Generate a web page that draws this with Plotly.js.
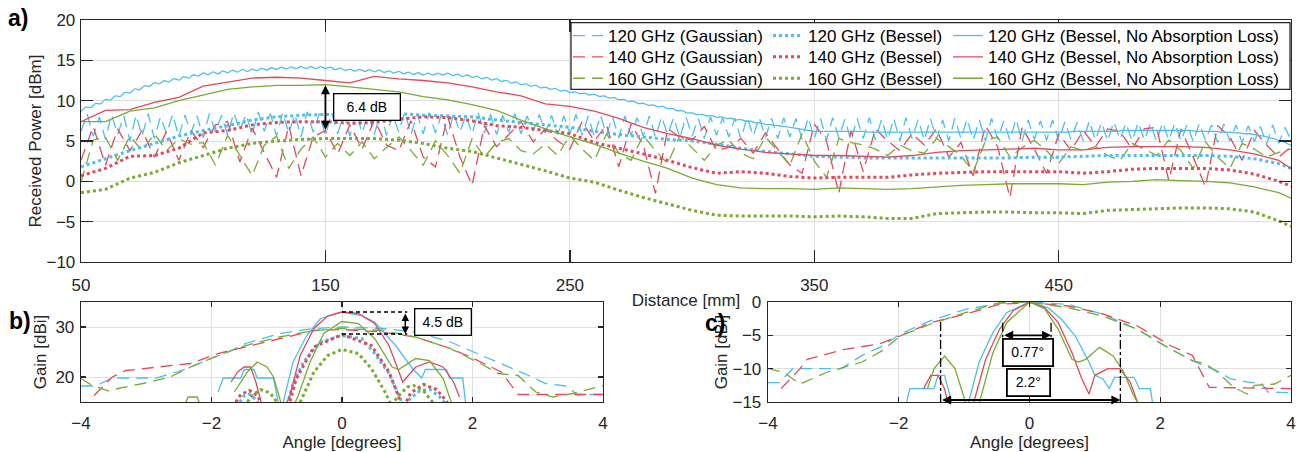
<!DOCTYPE html>
<html><head><meta charset="utf-8">
<script src="https://cdn.plot.ly/plotly-3.0.1.min.js"></script>
<style>html,body{margin:0;padding:0;background:#fff}#chart{width:1304px;height:452px}</style>
</head><body><div id="chart"></div>
<script>
// ================= DATA =================
// (a) Received power vs distance [mm]
const distS = [50,60,70,80,90,100,110,120,130,140,150,160,170,180,190,200,210,220,230,240,250,260,270,280,290,300,310,320,330,340,350,360,370,380,390,400,410,420,430,440,450,460,470,480,490,500,510,520,530,540,545];
// 120 GHz (no absorption) sampled every 2 mm from 50 mm (shows its small ripple)
const pow120NoAbs = [8.65,
 9.19,9.13,9.67,9.61,10.15, 10.07,10.59,10.51,11.03,10.95, 11.45,11.35,11.85,11.75,12.25, 12.07,12.49,12.31,12.73,12.55, 12.97,12.79,13.21,13.03,13.45,
 13.21,13.57,13.33,13.69,13.45, 13.79,13.53,13.87,13.61,13.92, 13.72,14.0,13.8,14.08,13.88, 14.14,13.92,14.18,13.96,14.22, 13.98,14.22,13.98,14.22,13.98,
 14.16,13.86,14.04,13.74,13.92, 13.66,13.88,13.62,13.84,13.58, 13.78,13.5,13.7,13.42,13.62, 13.34,13.54,13.26,13.46,13.18, 13.42,13.18,13.42,13.18,13.42,
 13.12,13.3,13.0,13.18,12.88, 13.04,12.72,12.88,12.56,12.72, 12.38,12.52,12.18,12.32,11.98, 12.12,11.78,11.92,11.58,11.68, 11.42,11.48,11.22,11.28,11.02,
 11.1,10.86,10.94,10.7,10.78, 10.52,10.58,10.32,10.38,10.12, 10.16,9.88,9.92,9.64,9.68, 9.42,9.48,9.22,9.28,9.02, 9.04,8.74,8.76,8.46,8.48,
 8.26,8.3,8.1,8.14,7.94, 7.98,7.78,7.82,7.62,7.66, 7.44,7.46,7.24,7.26,7.04, 7.02,6.94,6.86,6.78,6.7, 6.6,6.5,6.4,6.3,6.2,
 6.2,6.2,6.2,6.2,6.2, 6.2,6.2,6.2,6.2,6.2, 6.1,6.1,6.1,6.1,6.1, 6.1,6.1,6.1,6.1,6.1, 6.1,6.1,6.1,6.1,6.1,
 6.1,6.1,6.1,6.1,6.1, 6.1,6.1,6.1,6.1,6.1, 6.1,6.1,6.1,6.1,6.1, 6.1,6.1,6.1,6.1,6.1, 6.1,6.1,6.1,6.1,6.1,
 6.1,6.1,6.2,6.2,6.2, 6.2,6.2,6.2,6.2,6.2, 6.2,6.2,6.3,6.3,6.3, 6.3,6.3,6.3,6.3,6.3, 6.3,6.3,6.3,6.3,6.3,
 6.3,6.3,6.2,6.2,6.2, 6.2,6.2,6.1,6.1,6.1, 6.0,6.0,5.9,5.9,5.8, 5.7,5.6,5.4,5.3,5.1, 4.9,4.6,4.3];
const pow140NoAbs = [7.4,8.8,8.9,9.8,10.4,11.8,12.3,12.8,12.9,12.8, 12.5,12.2,13.0,12.7,12.5,12.2,11.7,11.1,10.6,9.6, 9.3,8.7,7.8,6.7,5.9,5.3,4.5,4.0,3.6,3.4, 3.2,3.2,3.1,3.0,3.2,3.6,3.8,3.9,4.0,4.1, 3.9,3.9,4.2,4.3,4.3,4.3,4.2,3.9,3.4,2.6, 1.6];
const pow160NoAbs = [7.4,7.4,8.7,9.1,10.0,10.7,11.4,11.7,11.9,11.9, 12.0,11.7,11.4,11.1,10.5,10.1,9.5,8.8,7.6,6.5, 5.5,4.6,3.5,2.5,1.6,0.4,-0.4,-0.8,-0.9,-0.9, -1.0,-0.8,-0.9,-1.0,-0.9,-0.7,-0.5,-0.4,-0.3,-0.3, -0.3,-0.4,-0.1,0.0,0.2,0.1,0.0,-0.2,-0.7,-1.4, -2.1];
const pow120Bessel = [1.8,2.8,3.8,4.7,5.6,6.3,6.9,7.6,8.0,8.2, 8.3,8.2,8.2,8.4,8.2,8.1,8.0,7.6,7.3,7.0, 6.7,6.2,5.8,5.5,5.2,5.0,4.6,4.1,3.7,3.4, 3.1,3.0,2.9,2.9,2.9,2.9,2.9,2.9,2.9,3.0, 3.0,3.1,3.2,3.2,3.2,3.2,3.2,3.1,2.8,2.2, 1.6];
const pow140Bessel = [0.7,1.6,3.1,3.2,4.1,6.0,6.3,7.0,7.3,7.4, 7.4,7.2,7.3,7.7,8.0,7.9,7.5,6.9,6.7,6.3, 5.9,4.8,4.1,3.4,2.6,1.7,1.0,1.2,1.0,0.6, 0.4,0.5,0.5,0.5,0.8,1.0,1.1,1.2,1.2,1.2, 1.2,1.0,1.2,1.5,1.6,1.6,1.6,1.4,0.9,0.0, -0.6];
const pow160Bessel = [-1.4,-1.0,0.4,1.1,2.3,3.2,4.1,4.7,5.0,5.2, 5.3,5.3,5.3,5.1,4.7,4.1,3.7,2.9,2.1,1.3, 0.4,-0.1,-1.1,-2.0,-2.8,-3.6,-4.2,-4.3,-4.3,-4.3, -4.4,-4.3,-4.4,-4.6,-4.6,-4.0,-3.9,-3.8,-3.8,-3.9, -3.9,-4.0,-3.6,-3.5,-3.4,-3.3,-3.3,-3.4,-3.8,-4.9, -5.6];
// Gaussian series: 120 GHz sampled every 2.5 mm from 50 mm, 140/160 GHz every 5 mm from 50 mm
const pow120Gauss = [6.2,8.4,5.6,8.0,5.2,8.3,5.8,8.1,5.0,8.2,5.6,8.4,5.3,8.0,5.9,8.3,5.5,8.2,6.0,8.1,
 5.4,8.4,6.1,8.2,5.7,8.5,6.3,8.3,5.8,8.6,6.2,8.4,5.6,8.5,6.0,8.3,5.5,8.6,6.1,8.4,
 5.7,8.5,5.9,8.3,5.6,8.6,6.0,8.4,5.8,8.5,5.7,8.3,6.1,8.6,5.8,8.4,5.9,8.5,6.0,8.3,
 5.7,8.4,6.1,8.2,5.9,8.5,6.0,8.3,5.8,8.2,6.1,8.4,5.9,8.1,6.2,8.3,6.0,8.2,5.8,8.1,
 5.9,8.3,5.7,8.1,5.5,8.2,5.8,8.0,5.4,8.1,5.7,7.9,5.6,8.1,5.5,8.0,5.8,7.9,5.4,8.0,
 5.6,7.8,5.3,8.0,5.7,7.9,5.5,7.8,5.2,8.0,5.6,7.9,5.4,7.8,5.3,7.9,5.5,7.8,5.2,7.9,
 5.3,7.8,5.1,7.9,5.4,7.7,5.0,7.8,5.3,7.9,5.1,7.7,5.2,7.8,5.0,7.9,5.3,7.7,5.1,7.8,
 5.2,7.6,5.0,7.8,5.3,7.7,5.1,7.6,5.0,7.8,5.2,7.5,5.1,7.7,5.0,7.6,5.2,7.5,5.1,7.6,
 5.0,7.4,5.2,7.3,5.0,7.5,5.1,7.3,5.0,7.4,5.2,7.2,5.0,7.3,5.1,7.2,4.9,7.3,5.1,7.2,
 5.0,7.1,4.9,7.2,5.1,7.0,4.8,7.1,5.0,7.0,4.8,6.9,4.9,6.8,4.6,7.0,4.7,6.7,5.1];
const pow140Gauss = [2.6,6.8,2.0,6.5,3.8,6.3,3.0,6.2,2.6,6.3, 4.2,7.0,7.4,2.4,6.6,3.5,0.5,6.9,0.7,5.5,
 6.3,3.4,7.0,4.0,7.6,4.5,3.8,7.5,3.0,1.8, 8.0,3.0,-0.5,6.9,4.3,5.8,7.4,4.9,6.5,5.0,
 4.0,7.4,5.0,7.0,1.8,7.1,4.5,-1.5,6.5,5.5, 5.1,6.8,3.8,4.2,5.3,3.5,6.0,4.0,2.0,1.0,
 7.1,5.0,-1.5,6.3,1.2,6.5,5.0,3.8,5.9,4.5, 6.5,3.0,4.8,0.7,6.9,4.3,-2.0,6.7,4.0,1.0,
 5.9,3.8,6.3,4.3,6.5,6.2,4.0,6.5,6.7,0.1, 6.5,3.0,-0.7,6.9,5.5,2.6,6.3,4.5,3.0,4.3];
const pow160Gauss = [-0.1,5.1,5.5,2.6,5.6,3.8,5.9,3.8,5.3,4.6, 4.8,2.0,5.7,3.2,0.7,4.5,5.6,1.6,4.0,5.5,
 3.0,4.7,3.2,4.9,2.8,4.2,5.5,3.8,2.0,5.0, 3.2,1.0,5.3,3.0,4.8,5.3,3.8,3.4,4.6,3.2,
 5.7,4.0,2.6,5.9,3.5,2.6,5.7,3.8,2.2,5.7, 4.2,2.6,4.5,5.1,3.5,2.8,5.5,3.8,2.0,5.9,
 2.5,0.5,5.3,4.8,4.5,4.0,3.2,4.5,3.8,3.5, 5.3,4.3,3.2,1.2,5.0,5.5,3.0,4.2,5.1,3.8,
 2.2,4.3,3.8,4.3,3.2,2.6,4.7,4.0,3.2,5.1, 3.8,1.6,4.9,3.0,1.6,4.7,4.0,3.0,3.6,4.0];

// (b) Gain [dBi] vs angle [deg]
const bAng120G = [-4,-3.78,-3.52,-2.85,-2.53,-2.32,-2.0,-1.74,-1.48,-0.96,-0.43,0,0.61,1.13,1.66,1.97,2.44,2.86,3.12,3.44,3.6,4];
const bGain120G = [18.2,18.2,19.8,19.8,21.0,22.0,23.7,25.0,26.7,28.7,29.7,30.0,29.7,29.0,27.0,25.3,22.7,20.3,18.7,18.2,16.5,16.5];
const bAng140G = [-3.8,-3.52,-3.31,-2.79,-2.32,-1.9,-1.48,-0.96,-0.43,0,0.61,1.13,1.66,1.97,2.44,2.7,4];
const bGain140G = [16.3,20.0,21.3,22.0,22.7,24.7,26.0,27.7,29.3,29.5,29.0,28.0,25.7,24.0,21.0,16.5,16.5];
const bAng160G = [-4,-3.83,-3.57,-3.4,-3.05,-2.63,-2.32,-1.9,-1.48,-0.96,-0.43,0,0.61,1.13,1.66,2.18,2.39,2.7,2.97,3.23,3.54,4];
const bGain160G = [19.7,18.3,17.2,17.8,18.7,20.0,22.0,24.3,26.3,28.0,29.3,29.7,29.3,28.0,25.7,22.3,20.7,20.3,17.0,16.0,16.7,18.3];
const bAng120B = [-1.62,-1.5,-1.42,-1.32,-1.25,-1.0,-0.85,-0.75,-0.59,-0.33,0,0.3,0.5,0.72,0.87,0.95,1.05,1.2,1.35,1.5,1.62];
const bGain120B = [14,16.3,16.6,15.5,14,12,14,18.7,23,27,28.3,27.7,24.7,20.7,16.3,14,15.8,17.3,17.5,16,14];
const bAng140B = [-1.68,-1.55,-1.42,-1.3,-1.2,-1.0,-0.8,-0.7,-0.43,0,0.45,0.72,0.9,0.95,1.05,1.25,1.45,1.6,1.65];
const bGain140B = [14,16.5,17.3,16.3,14,12,15,19.7,26,28.5,26.3,21,15,14,16.8,18.5,17.5,15.2,14];
const bAng160B = [-1.5,-1.4,-1.25,-1.1,-0.97,-0.85,-0.68,-0.64,-0.43,-0.22,0,0.25,0.45,0.66,0.76,0.85,1.0,1.1,1.25,1.4,1.45];
const bGain160B = [14,16,17.5,16.8,14.5,12,14,15,21,24.3,25.5,24.7,21.7,17,14.2,16,18,18.3,17.2,15,14];
const bAng120N = [-1.9,-1.82,-1.55,-1.5,-1.35,-1.3,-1.05,-1.0,-0.95,-0.9,-0.75,-0.54,-0.33,0,0.3,0.5,0.82,1.08,1.22,1.28,1.6,1.65,1.85,1.9];
const bGain120N = [17,19.8,19.8,21.5,21.5,19.8,19.8,16.5,13,15,23,28.3,31.7,33,32.3,31,26.3,21.7,19.8,21.5,21.5,19.8,19.8,14];
const bAng140N = [-1.7,-1.6,-1.5,-1.4,-1.32,-1.22,-1.0,-0.8,-0.64,-0.43,-0.22,0,0.25,0.5,0.72,0.87,0.93,1.13,1.34,1.55,1.71,1.8];
const bGain140N = [19,21,22,22,19,14,10,16.3,24.3,29.7,32.2,33,32.7,30.7,26.3,21,19,22,23,22,19,16];
const bAng160N = [-2.42,-2.36,-2.22,-2.16,null,-1.65,-1.45,-1.3,-1.15,-1.05,-0.95,-0.85,-0.67,-0.49,-0.28,0,0.25,0.5,0.77,0.87,1.13,1.34,1.55,1.66,1.7];
const bGain160N = [14,16,16,14,null,17,21,23,22,20,15,11,16.3,23,28.7,31.1,30.7,27.7,22,21.5,23.7,23.3,19.7,15.7,14];

// (c) Normalised gain [dBi] vs angle [deg]
const cAng120G = [-4,-3.83,-3.62,-2.88,-2.56,-2.25,-1.98,-1.51,-0.98,-0.46,0,0.59,1.12,1.65,2.07,2.49,2.86,3.07,3.38,3.54,3.65,4];
const cGain120G = [-12.1,-12.1,-10,-10,-8,-6.6,-4.8,-2.8,-1.1,-0.2,0,-0.35,-1.8,-4.1,-6.6,-8.8,-10.3,-11.5,-12.1,-12.1,-13.5,-13.6];
const cAng140G = [-3.8,-3.51,-3.4,-2.83,-2.3,-1.98,-1.51,-0.98,-0.46,0,0.59,1.12,1.65,1.91,2.17,2.49,2.75,4];
const cGain140G = [-13,-10,-8.6,-7.1,-6.3,-5.1,-3.1,-1.8,-0.35,-0.1,-0.6,-1.8,-3.6,-5.1,-6.6,-8,-12.8,-13];
const cAng160G = [-4,-3.77,-3.51,-3.09,-2.56,-2.25,-1.98,-1.51,-0.98,-0.46,0,0.59,1.12,1.65,2.17,2.49,2.7,2.91,3.12,3.33,3.44,3.75,4];
const cGain160G = [-10,-10.5,-12.3,-10.5,-9,-7.3,-5.1,-3.3,-1.6,-0.1,0,-0.85,-2.1,-4.1,-7.1,-8.8,-9.3,-10.8,-12.8,-13.8,-12.5,-12.3,-11];
const cAng120N = [-1.88,-1.83,-1.72,-1.46,-1.4,-1.3,-1.19,-1.05,-0.93,-0.77,-0.56,-0.35,0,0.28,0.49,0.7,0.91,1.0,1.12,1.22,1.3,1.6,1.68,1.85,1.88];
const cGain120N = [-15,-13,-13,-13,-11,-11,-15,-18,-15,-9,-4.6,-1.6,0,-0.85,-2.6,-5.1,-9,-11,-11.5,-13,-11.3,-11.3,-13,-13,-15];
const cAng140N = [-1.62,-1.51,-1.4,-1.3,-1.25,-1.0,-0.85,-0.67,-0.46,-0.25,0,0.23,0.44,0.65,0.8,0.91,1.0,1.2,1.38,1.54,1.65];
const cGain140N = [-13,-11,-11,-13,-15,-18,-15,-8.6,-4.1,-1.3,0,-0.85,-3.1,-7.6,-11.5,-13.8,-11,-10,-10,-12,-15];
const cAng160N = [-1.56,-1.46,-1.3,-1.14,-0.98,-0.85,-0.75,-0.56,-0.35,0,0.23,0.44,0.65,0.75,0.86,1.07,1.28,1.44,1.59,1.65];
const cGain160N = [-13,-10,-8.1,-10,-15,-18,-14.5,-7.6,-3.1,0,-1,-4.1,-8.6,-9,-8.6,-6.8,-8.1,-10.5,-14,-15];

// tick labels
const distTicks = [50,150,250,350,450];
const powerTicks = [-10,-5,0,5,10,15,20];
const angleTicks = [-4,-2,0,2,4];
const gainTicksB = [20,30];
const gainTicksC = [-15,-10,-5,0];

// legend names
const freqs = ['120 GHz','140 GHz','160 GHz'];
const kinds = ['(Gaussian)','(Bessel)','(Bessel, No Absorption Loss)'];

// ================= STYLE =================
const W = 1304, H = 452;
const fx = v => v / W, fy = v => 1 - v / H;
const FONT = 'Liberation Sans, Arial, Helvetica, sans-serif';
const COLORS = ['#4DBEEE', '#E3495B', '#77AC30'];
const DASHED = {width: 1.3, dash: '12px,7px'};
const DOTTED = {width: 3, dash: 'dot'};
const SOLID = {width: 1.3, dash: 'solid'};
const STY = [DASHED, DOTTED, SOLID];

const traces = [];
const powG = [pow120Gauss, pow140Gauss, pow160Gauss];
const powB = [pow120Bessel, pow140Bessel, pow160Bessel];
const legName = (c, r) => { const i = c * 3 + r + 1; return i === 1 ? 'legend' : 'legend' + i; };

// (a)
for (let r = 0; r < 3; r++) {
  traces.push({type:'scatter', mode:'lines', name: freqs[r] + ' ' + kinds[0], y: powG[r],
    x0: 50, dx: r === 0 ? 2.5 : 5, xaxis:'x', yaxis:'y', legend: legName(0, r),
    line: Object.assign({color: COLORS[r]}, STY[0])});
}
for (let r = 0; r < 3; r++) traces.push({type:'scatter', mode:'lines', name: freqs[r] + ' ' + kinds[1],
  x: distS, y: powB[r], xaxis:'x', yaxis:'y', legend: legName(1, r), line: Object.assign({color: COLORS[r]}, STY[1])});
traces.push({type:'scatter', mode:'lines', name: freqs[0] + ' ' + kinds[2], y: pow120NoAbs, x0: 50, dx: 2,
  xaxis:'x', yaxis:'y', legend: legName(2, 0), line: Object.assign({color: COLORS[0], shape:'spline', smoothing:0.6}, STY[2])});
traces.push({type:'scatter', mode:'lines', name: freqs[1] + ' ' + kinds[2], x: distS, y: pow140NoAbs,
  xaxis:'x', yaxis:'y', legend: legName(2, 1), line: Object.assign({color: COLORS[1]}, STY[2])});
traces.push({type:'scatter', mode:'lines', name: freqs[2] + ' ' + kinds[2], x: distS, y: pow160NoAbs,
  xaxis:'x', yaxis:'y', legend: legName(2, 2), line: Object.assign({color: COLORS[2]}, STY[2])});

// (b)
const bSets = [
  [[bAng120G,bGain120G],[bAng140G,bGain140G],[bAng160G,bGain160G]],
  [[bAng120B,bGain120B],[bAng140B,bGain140B],[bAng160B,bGain160B]],
  [[bAng120N,bGain120N],[bAng140N,bGain140N],[bAng160N,bGain160N]]];
bSets.forEach((set, k) => set.forEach((d, r) => traces.push({type:'scatter', mode:'lines', showlegend:false,
  name: freqs[r] + ' ' + kinds[k], x: d[0], y: d[1], xaxis:'x2', yaxis:'y2', connectgaps:false,
  line: Object.assign({color: COLORS[r]}, STY[k])})));
// (c)
const cSets = [
  [[cAng120G,cGain120G],[cAng140G,cGain140G],[cAng160G,cGain160G]],
  [[cAng120N,cGain120N],[cAng140N,cGain140N],[cAng160N,cGain160N]]];
const cKinds = [0, 2];
cSets.forEach((set, k) => set.forEach((d, r) => traces.push({type:'scatter', mode:'lines', showlegend:false,
  name: freqs[r] + ' ' + kinds[cKinds[k]], x: d[0], y: d[1], xaxis:'x3', yaxis:'y3',
  line: Object.assign({color: COLORS[r]}, STY[cKinds[k]])})));

const tickFont = {family: FONT, size: 17, color: '#262626'};
const titleFont = {family: FONT, size: 17, color: '#262626'};
const axBase = {showline:true, linecolor:'#262626', linewidth:1.3, mirror:'ticks', ticks:'inside',
  tickcolor:'#262626', tickwidth:1.3, showgrid:true, gridcolor:'#dfdfdf', gridwidth:1, zeroline:false,
  tickfont: tickFont, automargin:false, fixedrange:true};

// legends
const colX = [568, 768, 948], rowY = [36, 57.3, 78.7];
const layout = {
  width: W, height: H, margin: {l:0, r:0, t:0, b:0}, paper_bgcolor:'#fff', plot_bgcolor:'#fff',
  font: {family: FONT, size: 17, color: '#262626'},
  xaxis: Object.assign({}, axBase, {domain:[fx(81), fx(1291)], range:[50,545], tickvals: distTicks, ticklen:12,
    anchor:'y', ticklabelstandoff: 7, title:{text:'Distance [mm]', font:titleFont, standoff: 0}}),
  yaxis: Object.assign({}, axBase, {domain:[fy(262), fy(20)], range:[-10,20], tickvals: powerTicks, ticklen:12,
    anchor:'x', ticklabelstandoff: 1, title:{text:'Received Power [dBm]', font:titleFont, standoff: 0}}),
  xaxis2: Object.assign({}, axBase, {domain:[fx(81), fx(603)], range:[-4,4], tickvals: angleTicks, ticklen:5,
    anchor:'y2', ticklabelstandoff: 5, title:{text:'Angle [degrees]', font:titleFont, standoff: 1}}),
  yaxis2: Object.assign({}, axBase, {domain:[fy(402), fy(302)], range:[15,35], tickvals: gainTicksB, ticklen:5,
    anchor:'x2', ticklabelstandoff: 2, title:{text:'Gain [dBi]', font:titleFont, standoff: 4}}),
  xaxis3: Object.assign({}, axBase, {domain:[fx(768), fx(1291)], range:[-4,4], tickvals: angleTicks, ticklen:5,
    anchor:'y3', ticklabelstandoff: 5, title:{text:'Angle [degrees]', font:titleFont, standoff: 1}}),
  yaxis3: Object.assign({}, axBase, {domain:[fy(402), fy(302)], range:[-15,0], tickvals: gainTicksC, ticklen:5,
    anchor:'x3', ticklabelstandoff: 2, title:{text:'Gain [dBi]', font:titleFont, standoff: 0}}),
  shapes: [
    {type:'rect', xref:'paper', yref:'paper', x0: fx(571), x1: fx(1290), y0: fy(89.3), y1: fy(22.7),
     fillcolor:'#fff', line:{color:'#262626', width:1.3}, layer:'above'},
    {type:'line', xref:'x2', yref:'y2', x0:0, x1:1.0, y0:33, y1:33, line:{color:'#000', width:1.3, dash:'4px,3px'}},
    {type:'line', xref:'x2', yref:'y2', x0:0, x1:1.0, y0:28.6, y1:28.6, line:{color:'#000', width:1.3, dash:'4px,3px'}},
    {type:'line', xref:'x3', yref:'y3', x0:-1.36, x1:-1.36, y0:-3, y1:-15, line:{color:'#000', width:1.3, dash:'dashdot'}},
    {type:'line', xref:'x3', yref:'y3', x0:1.39, x1:1.39, y0:-3, y1:-15, line:{color:'#000', width:1.3, dash:'dashdot'}},
    {type:'line', xref:'x3', yref:'y3', x0:-0.41, x1:-0.41, y0:-3.1, y1:-5.3, line:{color:'#000', width:1.3, dash:'dashdot'}},
    {type:'line', xref:'x3', yref:'y3', x0:0.33, x1:0.33, y0:-3.1, y1:-5.3, line:{color:'#000', width:1.3, dash:'dashdot'}}
  ],
  annotations: [
    {xref:'paper', yref:'paper', x: fx(18), y: fy(18), text:'<b>a)</b>', showarrow:false, font:{family:FONT, size:23, color:'#000'}, xanchor:'center', yanchor:'middle'},
    {xref:'paper', yref:'paper', x: fx(20), y: fy(321), text:'<b>b)</b>', showarrow:false, font:{family:FONT, size:23, color:'#000'}, xanchor:'center', yanchor:'middle'},
    {xref:'paper', yref:'paper', x: fx(715), y: fy(323), text:'<b>c)</b>', showarrow:false, font:{family:FONT, size:23, color:'#000'}, xanchor:'center', yanchor:'middle'},
    // (a) 6.4 dB
    {xref:'x', yref:'y', axref:'x', ayref:'y', x:150, y:6.4, ax:150, ay:12.1, text:'', showarrow:true,
     arrowside:'end+start', arrowhead:2, startarrowhead:2, arrowsize:1, startarrowsize:1, arrowwidth:1.8, arrowcolor:'#000'},
    {xref:'x', yref:'y', x:166.8, y:9.25, text:'6.4 dB', showarrow:false, font:{family:FONT, size:14, color:'#000'},
     bordercolor:'#000', borderwidth:1.3, bgcolor:'#fff', borderpad:2, width:61, height:21},
    // (b) 4.5 dB
    {xref:'x2', yref:'y2', axref:'x2', ayref:'y2', x:0.97, y:28.6, ax:0.97, ay:33, text:'', showarrow:true,
     arrowside:'end+start', arrowhead:2, startarrowhead:2, arrowsize:1, startarrowsize:1, arrowwidth:1.5, arrowcolor:'#000'},
    {xref:'x2', yref:'y2', x:1.55, y:31, text:'4.5 dB', showarrow:false, font:{family:FONT, size:14, color:'#000'},
     bordercolor:'#000', borderwidth:1.3, bgcolor:'#fff', borderpad:2, width:51, height:21},
    // (c) widths
    {xref:'x3', yref:'y3', axref:'x3', ayref:'y3', x:0.33, y:-5, ax:-0.41, ay:-5, text:'', showarrow:true,
     arrowside:'end+start', arrowhead:2, startarrowhead:2, arrowsize:1, startarrowsize:1, arrowwidth:1.8, arrowcolor:'#000'},
    {xref:'x3', yref:'y3', axref:'x3', ayref:'y3', x:1.39, y:-14.7, ax:-1.36, ay:-14.7, text:'', showarrow:true,
     arrowside:'end+start', arrowhead:2, startarrowhead:2, arrowsize:1, startarrowsize:1, arrowwidth:1.8, arrowcolor:'#000'},
    {xref:'x3', yref:'y3', x:-0.03, y:-7.6, text:'0.77°', showarrow:false, font:{family:FONT, size:14, color:'#000'},
     bordercolor:'#000', borderwidth:1.8, bgcolor:'#fff', borderpad:2, width:44, height:21},
    {xref:'x3', yref:'y3', x:-0.02, y:-12, text:'2.2°', showarrow:false, font:{family:FONT, size:14, color:'#000'},
     bordercolor:'#000', borderwidth:1.8, bgcolor:'#fff', borderpad:2, width:37, height:21}
  ]
};
for (let c = 0; c < 3; c++) for (let r = 0; r < 3; r++) {
  layout[legName(c, r)] = {x: fx(colX[c]), y: fy(rowY[r]), xanchor:'left', yanchor:'middle',
    bgcolor:'rgba(0,0,0,0)', borderwidth:0, font:{family:FONT, size:17, color:'#000'}, itemwidth:30,
    orientation:'v', tracegroupgap:0};
}

Plotly.newPlot('chart', traces, layout, {staticPlot:true, displayModeBar:false});
</script>
</body></html>
